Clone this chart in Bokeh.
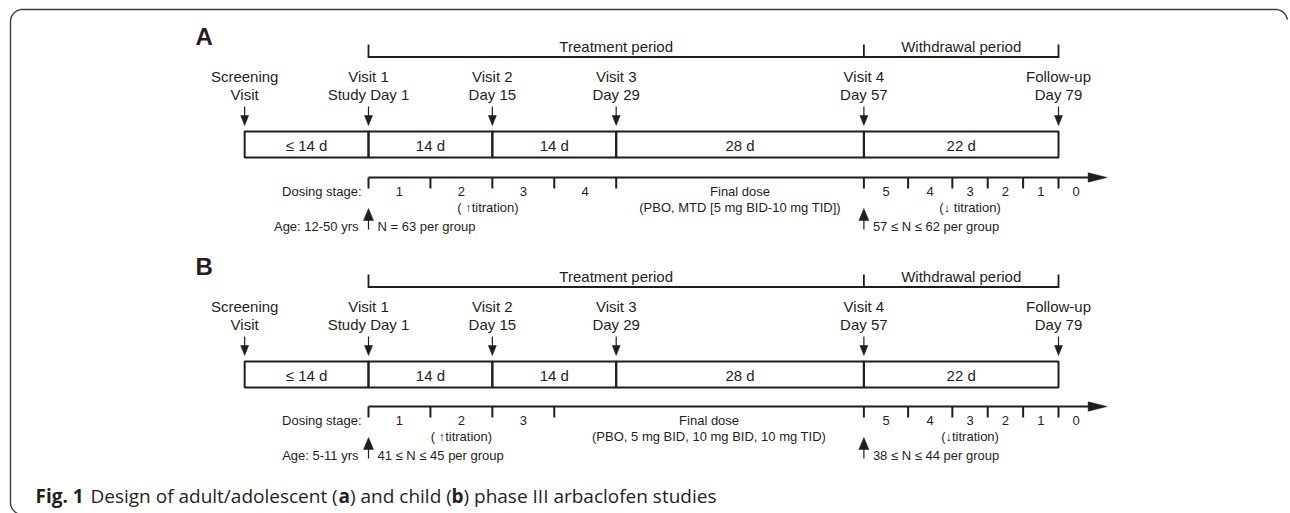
import numpy as np
from bokeh.plotting import figure
from bokeh.models import Range1d
from bokeh.embed import file_html
from bokeh.resources import INLINE
from bokeh.core.properties import value

# ---------------- data ----------------
panel_letters = ["A", "B"]
visit_titles = ["Screening", "Visit 1", "Visit 2", "Visit 3", "Visit 4", "Follow-up"]
visit_subtitles = ["Visit", "Study Day 1", "Day 15", "Day 29", "Day 57", "Day 79"]
visit_days = [-13, 1, 15, 29, 57, 79]
interval_labels = ["\u2264 14 d", "14 d", "14 d", "28 d", "22 d"]
period_labels = ["Treatment period", "Withdrawal period"]
period_edges = [1, 57, 79]

stage_edges = [
    [1, 8, 15, 22, 29, 57, 62, 67, 71, 75, 79, 83],
    [1, 8, 15, 22, 57, 62, 67, 71, 75, 79, 83],
]
stage_labels = [
    ["1", "2", "3", "4", "Final dose", "5", "4", "3", "2", "1", "0"],
    ["1", "2", "3", "Final dose", "5", "4", "3", "2", "1", "0"],
]
final_dose_notes = ["(PBO, MTD [5 mg BID-10 mg TID])",
                    "(PBO, 5 mg BID, 10 mg BID, 10 mg TID)"]
up_titration_labels = ["( \u2191titration)", "( \u2191titration)"]
up_titration_days = [14.5, 11.5]
down_titration_labels = ["(\u2193 titration)", "(\u2193titration)"]
down_titration_days = [69, 69]
age_labels = ["Age: 12-50 yrs", "Age: 5-11 yrs"]
n_start_labels = ["N = 63 per group", "41 \u2264 N \u2264 45 per group"]
n_end_labels = ["57 \u2264 N \u2264 62 per group", "38 \u2264 N \u2264 44 per group"]
axis_end_day = 84.5
caption_texts = ["Fig. 1", "Design of adult/adolescent (", "a", ") and child (", "b",
                 ") phase III arbaclofen studies"]
caption_bold = [True, False, True, False, True, False]

# ---------------- layout helpers ----------------
W, H = 1290, 513
PX_DAY1, PX_DAY79 = 368.0, 1058.0
K = (PX_DAY79 - PX_DAY1) / (79 - 1)          # pixels per day


def X(px):
    """picture pixel -> day coordinate"""
    return 1 + (px - PX_DAY1) / K


def dpx(px):
    return px / K


p = figure(width=W, height=H, x_range=Range1d(X(0), X(W)),
           y_range=Range1d(H, 0), output_backend="svg", toolbar_location=None,
           min_border=0, x_axis_type=None, y_axis_type=None)
p.grid.visible = False
p.outline_line_color = None
p.background_fill_color = "white"
p.border_fill_color = "white"

INK = "#231f20"
LINE = "#1e1e1e"
FONT = "Liberation Sans"


def txt(x, y, s, size="15px", align="center", bold=False, font=FONT, xo=0, color=INK):
    p.text(x=[x], y=[y], text=[s], text_font=value(font), text_font_size=value(size),
           text_align=align, text_baseline="middle", text_color=color,
           text_font_style="bold" if bold else "normal", x_offset=xo)


# ---------------- frame (cropped rounded box) ----------------
r = 12
left, top, right, bottom = 10, 9, 1287, 514
path_x, path_y = [], []
for a in np.linspace(0.5 * np.pi, np.pi, 20):
    path_x.append(left + r + r * np.cos(a)); path_y.append(bottom - r + r * np.sin(a))
for a in np.linspace(np.pi, 1.5 * np.pi, 20):
    path_x.append(left + r + r * np.cos(a)); path_y.append(top + r + r * np.sin(a))
for a in np.linspace(1.5 * np.pi, 1.95 * np.pi, 18):
    path_x.append(right - r + r * np.cos(a)); path_y.append(top + r + r * np.sin(a))
p.line([X(v) for v in path_x], path_y, line_color="#3a3a3a", line_width=1.4)

# ---------------- panels ----------------
for i, letter in enumerate(panel_letters):
    oy = 230 * i
    od = 229 * i
    edges = stage_edges[i]
    labels = stage_labels[i]

    txt(X(195), 36 + oy, letter, size="24px", align="left", bold=True)

    # period bracket
    p.segment(x0=[period_edges[0]], x1=[period_edges[-1]], y0=[56.5 + oy], y1=[56.5 + oy],
              line_color=LINE, line_width=1.8)
    p.segment(x0=period_edges, x1=period_edges, y0=[44 + oy] * 3, y1=[57.5 + oy] * 3,
              line_color=LINE, line_width=1.8)
    for j, lab in enumerate(period_labels):
        txt((period_edges[j] + period_edges[j + 1]) / 2, 45.5 + oy, lab)

    # visits
    for d, t, s in zip(visit_days, visit_titles, visit_subtitles):
        txt(d, 75.5 + oy, t)
        txt(d, 93.5 + oy, s)
    p.segment(x0=visit_days, x1=visit_days, y0=[106 + oy] * 6, y1=[117 + oy] * 6,
              line_color=LINE, line_width=1.2)
    p.patches(xs=[[d - dpx(4), d + dpx(4), d] for d in visit_days],
              ys=[[115 + oy, 115 + oy, 125 + oy]] * 6,
              fill_color=LINE, line_color=LINE, line_width=0.5)

    # interval boxes
    p.quad(left=visit_days[:-1], right=visit_days[1:], top=[131 + oy] * 5,
           bottom=[157 + oy] * 5, fill_color=None, line_color=LINE, line_width=2)
    for j, lab in enumerate(interval_labels):
        txt((visit_days[j] + visit_days[j + 1]) / 2, 145 + oy, lab)

    # dosing axis
    ay = 177 + od
    head_len = dpx(19)
    p.segment(x0=[edges[0]], x1=[axis_end_day - head_len + dpx(1)], y0=[ay], y1=[ay],
              line_color=LINE, line_width=2)
    p.patches(xs=[[axis_end_day - head_len, axis_end_day, axis_end_day - head_len]],
              ys=[[ay - 4.7, ay, ay + 4.7]], fill_color=LINE, line_color=LINE, line_width=0.5)
    ticks = edges[:-1]
    p.segment(x0=ticks, x1=ticks, y0=[ay] * len(ticks), y1=[ay + 11] * len(ticks),
              line_color=LINE, line_width=2)
    for j, lab in enumerate(labels):
        mid = (edges[j] + edges[j + 1]) / 2
        txt(mid, 191 + od, lab, size="13px")
        if lab == "Final dose":
            txt(mid, 207 + od, final_dose_notes[i], size="13px")
    txt(up_titration_days[i], 207 + od, up_titration_labels[i], size="13px")
    txt(down_titration_days[i], 207 + od, down_titration_labels[i], size="13px")
    txt(edges[0], 191 + od, "Dosing stage:", size="13px", align="right", xo=-7)

    # enrolment arrows
    for d in [visit_days[1], visit_days[4]]:
        p.segment(x0=[d], x1=[d], y0=[229 + od], y1=[217 + od], line_color=LINE, line_width=1.2)
        p.patches(xs=[[d - dpx(5), d + dpx(5), d]], ys=[[220 + od, 220 + od, 208 + od]],
                  fill_color=LINE, line_color=LINE, line_width=0.5)
    txt(visit_days[1], 225.5 + od, age_labels[i], size="13px", align="right", xo=-10)
    txt(visit_days[1], 225.5 + od, n_start_labels[i], size="13px", align="left", xo=9)
    txt(visit_days[4], 225.5 + od, n_end_labels[i], size="13px", align="left", xo=9)

# ---------------- caption ----------------
caption_px = [35, 90, 338, 349.5, 451, 463]
for t, b, xp in zip(caption_texts, caption_bold, caption_px):
    txt(X(xp), 495.5, t, size="19px", align="left", bold=b, font="Open Sans")

open("out.html", "w").write(file_html(p, INLINE))
